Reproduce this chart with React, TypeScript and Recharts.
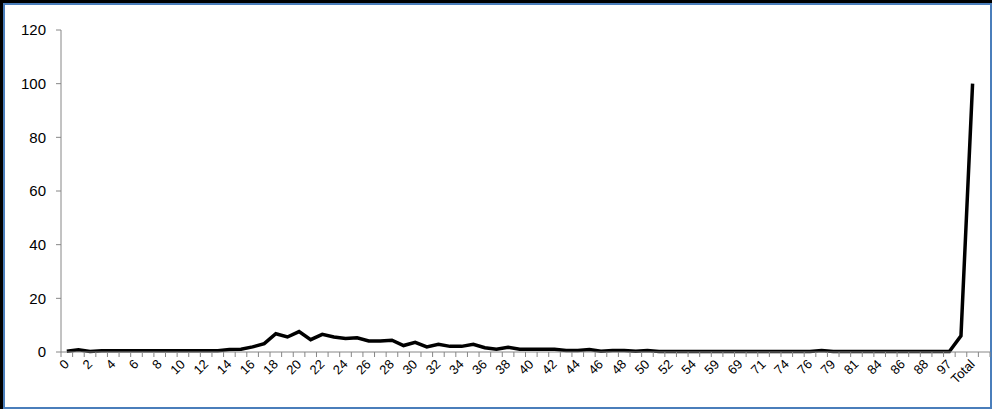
import React from 'react';
import { LineChart, Line, XAxis, YAxis } from 'recharts';

const categories: string[] = [
  '0', '1', '2', '3', '4', '5', '6', '7', '8', '9',
  '10', '11', '12', '13', '14', '15', '16', '17', '18', '19',
  '20', '21', '22', '23', '24', '25', '26', '27', '28', '29',
  '30', '31', '32', '33', '34', '35', '36', '37', '38', '39',
  '40', '41', '42', '43', '44', '45', '46', '47', '48', '49',
  '50', '51', '52', '53', '54', '56', '59', '64', '69', '70',
  '71', '72', '74', '75', '76', '78', '79', '80', '81', '83',
  '84', '85', '86', '87', '88', '92', '97', '99', 'Total', '',
];

const values: (number | null)[] = [
  0.3, 0.8, 0.2, 0.5, 0.5, 0.5, 0.5, 0.5, 0.5, 0.5,
  0.5, 0.5, 0.5, 0.5, 0.9, 1.0, 1.9, 3.1, 6.8, 5.6,
  7.6, 4.6, 6.6, 5.6, 5.0, 5.3, 4.1, 4.1, 4.4, 2.4,
  3.6, 1.9, 2.9, 2.1, 2.1, 2.9, 1.6, 1.0, 1.8, 1.0,
  1.0, 1.0, 1.0, 0.6, 0.6, 0.9, 0.3, 0.6, 0.6, 0.3,
  0.6, 0.2, 0.2, 0.2, 0.2, 0.2, 0.2, 0.2, 0.2, 0.2,
  0.2, 0.2, 0.2, 0.2, 0.2, 0.6, 0.2, 0.2, 0.2, 0.2,
  0.2, 0.2, 0.2, 0.2, 0.2, 0.2, 0.2, 6.0, 100, null,
];

const yTicks: number[] = [0, 20, 40, 60, 80, 100, 120];

const data = categories.map((name, i) => ({ pos: i + 0.5, name, value: values[i] }));

// boundary ticks (integers) and label ticks (every other category centre)
const xTicks: number[] = [];
for (let i = 0; i <= categories.length; i++) xTicks.push(i);
for (let i = 0; i < categories.length; i += 2) xTicks.push(i + 0.5);

const AXIS_COLOR = '#868686';

const XTick = (props: any) => {
  const { x, y, payload } = props;
  const v = payload.value as number;
  if (Number.isInteger(v)) {
    return <line x1={x} x2={x} y1={y} y2={y + 5} stroke={AXIS_COLOR} strokeWidth={1} />;
  }
  const idx = Math.floor(v);
  const label = categories[idx];
  const ax = x + 3;
  const ay = y + 13;
  return (
    <text
      x={ax}
      y={ay}
      textAnchor="end"
      fontSize={13}
      fontFamily="Liberation Sans, Arial, sans-serif"
      fill="#000"
      transform={`rotate(-45 ${ax} ${ay})`}
    >
      {label}
    </text>
  );
};

export default function App() {
  return (
    <div style={{ position: 'absolute', left: 0, top: 0, width: 992, height: 409, background: '#000', overflow: 'hidden' }}>
      <div
        style={{
          position: 'absolute',
          left: 3,
          top: 3,
          width: 985,
          height: 402,
          border: '2px solid #4a7ebb',
          background: '#fff',
        }}
      />
      <div style={{ position: 'absolute', left: 0, top: 0 }}>
        <LineChart
          width={992}
          height={409}
          data={data}
          margin={{ top: 30, right: 2, bottom: 7, left: 0 }}
        >
          <XAxis
            dataKey="pos"
            type="number"
            domain={[0, categories.length]}
            ticks={xTicks}
            interval={0}
            tick={<XTick />}
            tickLine={false}
            tickSize={0}
            tickMargin={0}
            height={50}
            axisLine={{ stroke: AXIS_COLOR }}
            allowDataOverflow
          />
          <YAxis
            type="number"
            domain={[0, 120]}
            ticks={yTicks}
            interval={0}
            width={61}
            tickSize={5}
            tickMargin={10}
            tickLine={{ stroke: AXIS_COLOR }}
            axisLine={{ stroke: AXIS_COLOR }}
            tick={{ fill: '#000', fontSize: 15, fontFamily: 'Liberation Sans, Arial, sans-serif' }}
          />
          <Line
            type="linear"
            dataKey="value"
            stroke="#000"
            strokeWidth={3.5}
            dot={false}
            isAnimationActive={false}
          />
        </LineChart>
      </div>
    </div>
  );
}
